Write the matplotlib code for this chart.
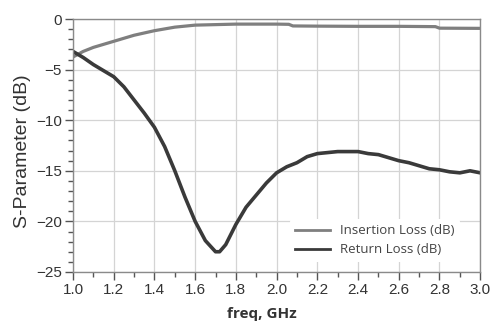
import matplotlib.pyplot as plt
from matplotlib.ticker import MultipleLocator

# Insertion loss (dB) vs freq
il_freq = [1.0, 1.05, 1.1, 1.2, 1.3, 1.4, 1.5, 1.6, 1.7, 1.8, 1.9, 2.0, 2.06, 2.08,
           2.2, 2.4, 2.6, 2.78, 2.8, 3.0]
il_db = [-3.75, -3.2, -2.8, -2.2, -1.6, -1.15, -0.8, -0.6, -0.55, -0.5, -0.5, -0.5, -0.52, -0.68,
         -0.7, -0.72, -0.72, -0.75, -0.9, -0.92]

# Return loss (dB) vs freq
rl_freq = [1.0, 1.05, 1.1, 1.15, 1.2, 1.25, 1.3, 1.35, 1.4, 1.45, 1.5, 1.55, 1.6, 1.65,
           1.7, 1.72, 1.75, 1.8, 1.85, 1.9, 1.95, 2.0, 2.05, 2.1, 2.15, 2.2, 2.25, 2.3,
           2.35, 2.4, 2.45, 2.5, 2.55, 2.6, 2.65, 2.7, 2.75, 2.8, 2.85, 2.9, 2.95, 3.0]
rl_db = [-3.2, -3.8, -4.5, -5.1, -5.7, -6.7, -8.0, -9.3, -10.7, -12.6, -15.0, -17.6, -20.0, -21.9,
         -23.0, -23.0, -22.3, -20.3, -18.6, -17.4, -16.2, -15.2, -14.6, -14.2, -13.6, -13.3, -13.2, -13.1,
         -13.1, -13.1, -13.3, -13.4, -13.7, -14.0, -14.2, -14.5, -14.8, -14.9, -15.1, -15.2, -15.0, -15.2]

plt.rcParams['font.family'] = ['Liberation Sans', 'DejaVu Sans']

fig = plt.figure(figsize=(4.9, 3.23), dpi=100)
ax = fig.add_axes([0.149, 0.158, 0.831, 0.783])

ax.plot(il_freq, il_db, color='#7f7f7f', lw=2.3, label='Insertion Loss (dB)')
ax.plot(rl_freq, rl_db, color='#3a3a3a', lw=2.6, label='Return Loss (dB)')

ax.set_xlim(1.0, 3.0)
ax.set_ylim(-25, 0)
ax.xaxis.set_major_locator(MultipleLocator(0.2))
ax.xaxis.set_minor_locator(MultipleLocator(0.1))
ax.yaxis.set_major_locator(MultipleLocator(5))
ax.yaxis.set_minor_locator(MultipleLocator(1))
ax.set_xticklabels([f'{v:.1f}' for v in ax.get_xticks()])
ax.grid(True, which='major', color='#d4d4d4', lw=0.9)
ax.set_axisbelow(True)

for s in ax.spines.values():
    s.set_color('#8a8a8a')
    s.set_linewidth(1.0)
ax.tick_params(which='major', length=6, width=1.0, color='#555555', labelsize=11, labelcolor='#333333', pad=2)
ax.tick_params(which='minor', length=3.5, width=1.0, color='#555555')

ax.set_xlabel('freq, GHz', fontsize=11, fontweight='bold', color='#333333',
              family=['Open Sans', 'DejaVu Sans'], va='center', ha='center')
ax.xaxis.set_label_coords(0.464, -0.165)
ax.set_ylabel('S-Parameter (dB)', fontsize=14, color='#333333', va='center', ha='center')
ax.yaxis.set_label_coords(-0.125, 0.478)

leg = ax.legend(loc='lower right', bbox_to_anchor=(0.96, 0.025), frameon=True, handlelength=2.6,
                borderaxespad=0.3, labelspacing=0.45,
                prop={'family': ['Open Sans', 'DejaVu Sans'], 'size': 9.5})
leg.get_frame().set_edgecolor('none')
leg.get_frame().set_facecolor('white')
leg.get_frame().set_alpha(1)
for line in leg.get_lines():
    line.set_linewidth(2.0)
for t in leg.get_texts():
    t.set_color('#444444')

fig.savefig('out.png', dpi=100)
